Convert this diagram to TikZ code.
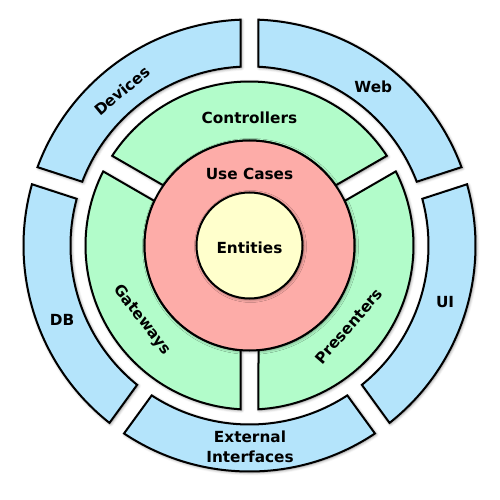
\documentclass[tikz,border=0pt]{standalone}
\usepackage{fontspec}
\setmainfont{DejaVu Sans}
\usetikzlibrary{shadows.blur}
\definecolor{ringblue}{HTML}{B4E4FB}
\definecolor{ringgreen}{HTML}{B2FCCA}
\definecolor{ringred}{HTML}{FDACA8}
\definecolor{ringyellow}{HTML}{FFFFCC}
% #1 start gap angle, #2 end gap angle, #3 inner radius, #4 outer radius, #5 half gap, #6 style
\newcommand\ringpiece[6]{%
  \draw[#6] ({#1+asin(#5/#4)}:#4)
    arc[start angle={#1+asin(#5/#4)}, end angle={#2-asin(#5/#4)}, radius=#4]
    -- ({#2-asin(#5/#3)}:#3)
    arc[start angle={#2-asin(#5/#3)}, end angle={#1+asin(#5/#3)}, radius=#3]
    -- cycle;}
\begin{document}
\begin{tikzpicture}[x=1pt,y=1pt,
  seg/.style={draw=black, line width=2pt,
    blur shadow={shadow xshift=1pt, shadow yshift=-1pt, shadow blur radius=3pt, shadow opacity=50}},
  lbl/.style={font=\bfseries\fontsize{15.3}{20}\selectfont, align=center, inner sep=0pt, text=black}]
\useasboundingbox (-249.5,-254.5) rectangle (250.5,245.5);
% outer ring
\ringpiece{18}{90}{179}{226}{9}{seg, fill=ringblue}
\ringpiece{90}{162}{179}{226}{9}{seg, fill=ringblue}
\ringpiece{162}{234}{179}{226}{9}{seg, fill=ringblue}
\ringpiece{234}{306}{179}{226}{9}{seg, fill=ringblue}
\ringpiece{306}{378}{179}{226}{9}{seg, fill=ringblue}
% green ring
\ringpiece{30}{150}{105}{164}{9}{seg, fill=ringgreen}
\ringpiece{150}{270}{105}{164}{9}{seg, fill=ringgreen}
\ringpiece{270}{390}{105}{164}{9}{seg, fill=ringgreen}
% inner circles
\draw[seg, fill=ringred] (0,0) circle[radius=105];
\draw[seg, fill=ringyellow] (0,0) circle[radius=53];
% labels
\node[lbl] (entities) at (0,-2) {Entities};
\node[lbl] (usecases) at (0,71.5) {Use Cases};
\node[lbl] (controllers) at (0,127.5) {Controllers};
\node[lbl, rotate=-52] (gateways) at (214.7:130.8) {Gateways};
\node[lbl, rotate=49] (presenters) at (-39:128) {Presenters};
\node[lbl, rotate=40] (devices) at (129.5:200.5) {Devices};
\node[lbl] (web) at (52:201) {Web};
\node[lbl] (ui) at (-16:203.5) {UI};
\node[lbl] (db) at (201.7:201.8) {DB};
\node[lbl] (external) at (0.5,-201.5) {External\\Interfaces};
\end{tikzpicture}
\end{document}
